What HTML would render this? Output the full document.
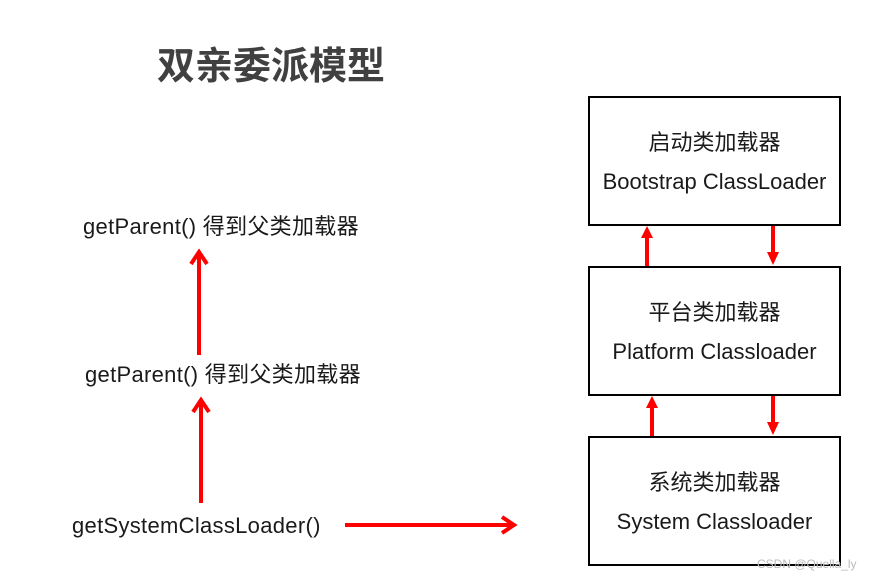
<!DOCTYPE html>
<html><head><meta charset="utf-8"><style>
body{margin:0;width:887px;height:581px;background:#fff;position:relative;overflow:hidden;font-family:"Liberation Sans","Noto Sans CJK SC",sans-serif;color:#1a1a1a}
.t{position:absolute;white-space:nowrap;font-size:22px;line-height:26px;letter-spacing:0.3px}
.box{position:absolute;left:588px;width:249px;height:126px;border:2px solid #000;box-sizing:content-box}
.box div{position:absolute;left:0;right:0;text-align:center;font-size:22px;line-height:26px;white-space:nowrap}
</style></head><body>
<div class="t" style="left:157px;top:44px;font-size:38px;line-height:46px;font-weight:bold;color:#404040;letter-spacing:0">双亲委派模型</div>
<div class="t" style="left:83px;top:214px">getParent() 得到父类加载器</div>
<div class="t" style="left:85px;top:362px">getParent() 得到父类加载器</div>
<div class="t" style="left:72px;top:513px">getSystemClassLoader()</div>
<div class="box" style="top:96px"><div style="top:32px">启动类加载器</div><div style="top:71px">Bootstrap ClassLoader</div></div>
<div class="box" style="top:266px"><div style="top:32px">平台类加载器</div><div style="top:71px">Platform Classloader</div></div>
<div class="box" style="top:436px"><div style="top:32px">系统类加载器</div><div style="top:71px">System Classloader</div></div>
<svg width="887" height="581" style="position:absolute;left:0;top:0">
<g stroke="#f00" stroke-width="4" fill="none">
<line x1="199" y1="355" x2="199" y2="254"/><polyline points="191,264 199,252 207,264"/>
<line x1="201" y1="503" x2="201" y2="402"/><polyline points="193,412 201,400 209,412"/>
<line x1="345" y1="525" x2="512" y2="525"/><polyline points="502,517 514,525 502,533"/>
<line x1="647" y1="266" x2="647" y2="236"/>
<line x1="773" y1="226" x2="773" y2="254"/>
<line x1="652" y1="436" x2="652" y2="406"/>
<line x1="773" y1="396" x2="773" y2="424"/>
</g>
<g fill="#f00">
<polygon points="641,238 653,238 647,226"/>
<polygon points="767,252 779,252 773,265"/>
<polygon points="646,408 658,408 652,396"/>
<polygon points="767,422 779,422 773,435"/>
</g>
</svg>
<div class="t" style="left:757px;top:556px;font-size:12px;line-height:16px;color:#bbb;letter-spacing:0">CSDN @Quella_ly</div>
</body></html>
